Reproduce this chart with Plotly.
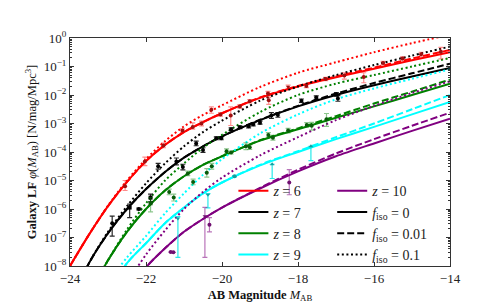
import plotly.graph_objects as go

# ---------------- model curves (log10 phi) ----------------
M_grid = [-24, -23.5, -23, -22.5, -22, -21.5, -21, -20.5, -20, -19, -18, -17, -16, -15, -14]

z6_f0   = [-8.0, -6.9, -5.9, -5.05, -4.32, -3.75, -3.3, -2.95, -2.64, -2.1, -1.7, -1.38, -1.08, -0.78, -0.5]
z6_f001 = [-8.0, -6.9, -5.9, -5.05, -4.32, -3.75, -3.3, -2.95, -2.64, -2.09, -1.68, -1.35, -1.04, -0.72, -0.42]
z6_f01  = [-8.0, -6.9, -5.88, -5.0, -4.25, -3.62, -3.1, -2.7, -2.36, -1.72, -1.22, -0.85, -0.5, -0.18, 0.12]

z7_f0   = [-9.4, -7.9, -6.85, -6.0, -5.3, -4.7, -4.2, -3.8, -3.45, -2.88, -2.4, -2.0, -1.66, -1.35, -1.05]
z7_f001 = [-9.4, -7.9, -6.85, -6.0, -5.3, -4.7, -4.2, -3.8, -3.45, -2.87, -2.38, -1.95, -1.58, -1.24, -0.9]
z7_f01  = [-9.4, -7.9, -6.8, -5.9, -5.1, -4.4, -3.8, -3.3, -2.9, -2.2, -1.7, -1.3, -0.95, -0.62, -0.3]

z8_f0   = [-10.0, -9.0, -7.8, -6.8, -6.0, -5.35, -4.85, -4.45, -4.15, -3.6, -3.2, -2.8, -2.4, -2.0, -1.6]
z8_f001 = [-10.0, -9.0, -7.8, -6.8, -6.0, -5.35, -4.85, -4.45, -4.15, -3.59, -3.17, -2.74, -2.3, -1.88, -1.46]
z8_f01  = [-10.0, -9.0, -7.8, -6.72, -5.8, -5.0, -4.4, -3.85, -3.4, -2.6, -2.0, -1.6, -1.3, -1.0, -0.7]

z9_f0   = [-11.5, -10.2, -9.0, -7.9, -7.2, -6.5, -5.95, -5.45, -5.07, -4.47, -4.0, -3.55, -3.12, -2.68, -2.24]
z9_f001 = [-11.5, -10.2, -9.0, -7.9, -7.2, -6.5, -5.95, -5.45, -5.07, -4.45, -3.97, -3.48, -3.0, -2.5, -2.0]
z9_f01  = [-11.0, -9.8, -8.6, -7.7, -6.95, -6.15, -5.45, -4.8, -4.25, -3.35, -2.68, -2.15, -1.77, -1.43, -1.1]

z10_f0   = [-12.0, -11.0, -10.0, -9.0, -8.05, -7.38, -6.8, -6.35, -5.95, -5.28, -4.68, -4.15, -3.7, -3.26, -2.83]
z10_f001 = [-12.0, -11.0, -10.0, -9.0, -8.05, -7.38, -6.8, -6.35, -5.95, -5.26, -4.62, -4.05, -3.55, -3.08, -2.62]
z10_f01  = [-12.0, -10.8, -9.7, -8.6, -7.6, -6.75, -6.0, -5.4, -4.9, -4.12, -3.48, -2.88, -2.38, -1.93, -1.52]

# ---------------- observed data points (M, log10 phi, +err, -err in dex) ----------------
z6_M   = [-22.55, -22.03, -21.54, -21.04, -20.77, -20.54, -20.28, -20.04, -19.77, -19.53, -19.27, -18.79, -18.77, -18.26, -17.78, -17.27, -16.78, -16.27, -15.76, -15.25, -14.76, -14.24]
z6_lg  = [-5.2, -4.33, -3.77, -3.25, -3.12, -3.0, -2.52, -2.68, -2.72, -2.4, -2.22, -1.95, -2.18, -1.71, -1.68, -1.44, -1.32, -1.37, -0.88, -0.72, -0.57, -0.48]
z6_eu  = [0.2, 0.15, 0.08, 0.06, 0.14, 0.08, 0.1, 0.06, 0.3, 0.06, 0.06, 0.08, 0.1, 0.06, 0.06, 0.06, 0.1, 0.15, 0.06, 0.06, 0.07, 0.15]
z6_ed  = [0.15, 0.15, 0.08, 0.06, 0.08, 0.08, 0.12, 0.06, 0.35, 0.06, 0.06, 0.08, 0.15, 0.06, 0.06, 0.06, 0.12, 0.2, 0.06, 0.06, 0.07, 0.25]

z7_M   = [-22.89, -22.43, -22.19, -21.88, -21.68, -21.2, -21.03, -20.68, -20.5, -20.15, -20.02, -19.76, -19.53, -19.3, -19.18, -19.0, -18.7, -18.53, -17.91, -17.52, -16.99, -16.95]
z7_lg  = [-6.5, -5.95, -6.0, -5.6, -4.5, -4.33, -4.53, -3.7, -3.93, -3.52, -3.52, -3.2, -3.13, -3.1, -3.03, -2.97, -2.72, -2.7, -2.2, -2.09, -1.98, -2.12]
z7_eu  = [0.25, 0.12, 0.03, 0.12, 0.1, 0.12, 0.1, 0.08, 0.08, 0.05, 0.05, 0.05, 0.05, 0.05, 0.05, 0.05, 0.1, 0.08, 0.06, 0.06, 0.06, 0.1]
z7_ed  = [0.45, 0.35, 0.03, 0.15, 0.1, 0.12, 0.1, 0.08, 0.08, 0.05, 0.05, 0.05, 0.05, 0.05, 0.05, 0.05, 0.1, 0.08, 0.06, 0.06, 0.06, 0.1]

z8_M   = [-21.88, -21.39, -21.27, -20.9, -20.76, -20.4, -20.27, -19.88, -19.76, -19.37, -19.27, -18.78, -18.66, -18.26, -17.77, -17.64, -17.25]
z8_lg  = [-5.8, -5.4, -5.6, -4.75, -5.05, -4.73, -4.5, -3.97, -4.02, -3.8, -3.83, -3.4, -3.5, -3.25, -3.05, -3.08, -2.85]
z8_eu  = [0.2, 0.1, 0.12, 0.08, 0.1, 0.15, 0.1, 0.08, 0.05, 0.12, 0.08, 0.08, 0.08, 0.08, 0.08, 0.12, 0.2]
z8_ed  = [0.3, 0.1, 0.12, 0.08, 0.1, 0.15, 0.1, 0.08, 0.05, 0.12, 0.08, 0.08, 0.08, 0.08, 0.08, 0.15, 0.25]

z9_M   = [-21.16, -20.37, -19.67, -18.68, -17.66]
z9_lg  = [-6.33, -5.5, -4.85, -4.43, -3.8]
z9_eu  = [0.06, 0.04, 0.02, 0.0, 0.0]
z9_ed  = [1.37, 0.46, 0.02, 0.5, 0.5]

z10_M  = [-21.35, -21.28, -20.45, -20.33, -18.23]
z10_lg = [-7.51, -7.52, -6.25, -6.55, -5.07]
z10_eu = [0.0, 0.0, 0.31, 0.25, 0.45]
z10_ed = [0.0, 0.0, 1.45, 0.25, 0.43]

x_ticks = [-24, -22, -20, -18, -16, -14]
x_ticktext = ["\u221224", "\u221222", "\u221220", "\u221218", "\u221216", "\u221214"]
y_exps = [0, -1, -2, -3, -4, -5, -6, -7, -8]
y_ticktext = ["10<sup>0</sup>"] + ["10<sup>\u2212%d</sup>" % (-e) for e in y_exps[1:]]

legend_z = ["<i>z</i> = 6", "<i>z</i> = 7", "<i>z</i> = 8", "<i>z</i> = 9", "<i>z</i> = 10"]
legend_f = ["<i>f</i><sub>iso</sub> = 0", "<i>f</i><sub>iso</sub> = 0.01", "<i>f</i><sub>iso</sub> = 0.1"]

# ---------------- styles ----------------
colors = ["#ff0000", "#000000", "#008000", "#00ffff", "#800080"]
err_colors = ["rgba(255,0,0,0.45)", "rgba(0,0,0,0.85)", "rgba(0,128,0,0.45)", "rgba(0,230,230,0.85)", "rgba(128,0,128,0.55)"]
mk_colors = ["#a01010", "#000000", "#0a5a0a", "#10a0a0", "#701070"]
DASH = "7px,3px"
DOT = "2px,2.6px"
LW = 2

SERIF = "Liberation Serif, DejaVu Serif, serif"

fig = go.Figure()

curves = [
    (z6_f0, z6_f001, z6_f01),
    (z7_f0, z7_f001, z7_f01),
    (z8_f0, z8_f001, z8_f01),
    (z9_f0, z9_f001, z9_f01),
    (z10_f0, z10_f001, z10_f01),
]

def pw(vals):
    return [10 ** v for v in vals]

for i, (c0, c1, c2) in enumerate(curves):
    for vals, dash in ((c2, DOT), (c1, DASH), (c0, "solid")):
        fig.add_trace(go.Scatter(
            x=M_grid, y=pw(vals), mode="lines",
            line=dict(color=colors[i], width=LW, dash=dash, shape="spline", smoothing=0.8),
            showlegend=False, hoverinfo="skip"))

data = [
    (z6_M, z6_lg, z6_eu, z6_ed),
    (z7_M, z7_lg, z7_eu, z7_ed),
    (z8_M, z8_lg, z8_eu, z8_ed),
    (z9_M, z9_lg, z9_eu, z9_ed),
    (z10_M, z10_lg, z10_eu, z10_ed),
]
symbols = [
    ["circle"] * 13 + ["triangle-down"] + ["circle"] * 8,
    ["circle", "square", "circle", "square"] + ["circle"] * 18,
    ["square"] + ["circle"] * 16,
    ["triangle-down", "triangle-down", "circle", "triangle-up", "triangle-up"],
    ["circle", "circle", "triangle-down", "circle", "circle"],
]

for i, (Ms, lg, eu, ed) in enumerate(data):
    y = pw(lg)
    up = [10 ** (v + e) - 10 ** v for v, e in zip(lg, eu)]
    dn = [10 ** v - 10 ** (v - e) for v, e in zip(lg, ed)]
    fig.add_trace(go.Scatter(
        x=Ms, y=y, mode="markers",
        marker=dict(color=mk_colors[i], size=4, symbol=symbols[i], line=dict(width=0)),
        error_y=dict(type="data", symmetric=False, array=up, arrayminus=dn,
                     color=err_colors[i], thickness=1.2, width=2.5),
        showlegend=False, hoverinfo="skip"))

# legend entries
for i, name in enumerate(legend_z):
    fig.add_trace(go.Scatter(
        x=[None], y=[None], mode="lines", name=name,
        line=dict(color=colors[i], width=LW),
        legend="legend" if i < 4 else "legend2", legendgroup="g%d" % i))
for j, (name, dash) in enumerate(zip(legend_f, ["solid", DASH, DOT])):
    fig.add_trace(go.Scatter(
        x=[None], y=[None], mode="lines", name=name,
        line=dict(color="#000000", width=LW, dash=dash),
        legend="legend2", legendgroup="f%d" % j))

axis_common = dict(showline=True, linecolor="#333333", linewidth=1, mirror="allticks",
                   ticks="inside", tickcolor="#333333", ticklen=4, showgrid=False, zeroline=False,
                   tickfont=dict(family=SERIF, size=13, color="#222222"))

minor_vals = [m * 10 ** e for e in range(-8, 0) for m in range(2, 10)]

fig.update_layout(
    width=491, height=303,
    margin=dict(l=62, r=49, t=30, b=31),
    paper_bgcolor="white", plot_bgcolor="white",
    xaxis=dict(range=[-24, -14], tickvals=x_ticks, ticktext=x_ticktext,
               title=dict(text="<b>AB Magnitude</b> <i>M</i><sub>AB</sub>",
                          font=dict(family=SERIF, size=12.5, color="#111111"), standoff=5),
               **axis_common),
    yaxis=dict(type="log", range=[-8, 0], tickvals=[10 ** e for e in y_exps], ticktext=y_ticktext,
               minor=dict(tickvals=minor_vals, ticks="inside", ticklen=2, tickcolor="#333333"),
               title=dict(text="<b>Galaxy LF</b> <i>\u03c6</i>(<i>M</i><sub>AB</sub>) [N/mag/Mpc<sup>3</sup>]",
                          font=dict(family=SERIF, size=12.5, color="#111111"), standoff=4),
               **axis_common),
    legend=dict(x=0.43, y=0.398, xanchor="left", yanchor="top", bgcolor="rgba(0,0,0,0)",
                font=dict(family=SERIF, size=14, color="#222222"), tracegroupgap=0),
    legend2=dict(x=0.69, y=0.398, xanchor="left", yanchor="top", bgcolor="rgba(0,0,0,0)",
                 font=dict(family=SERIF, size=14, color="#222222"), tracegroupgap=0),
    showlegend=True,
)

fig.write_html("out.html")
